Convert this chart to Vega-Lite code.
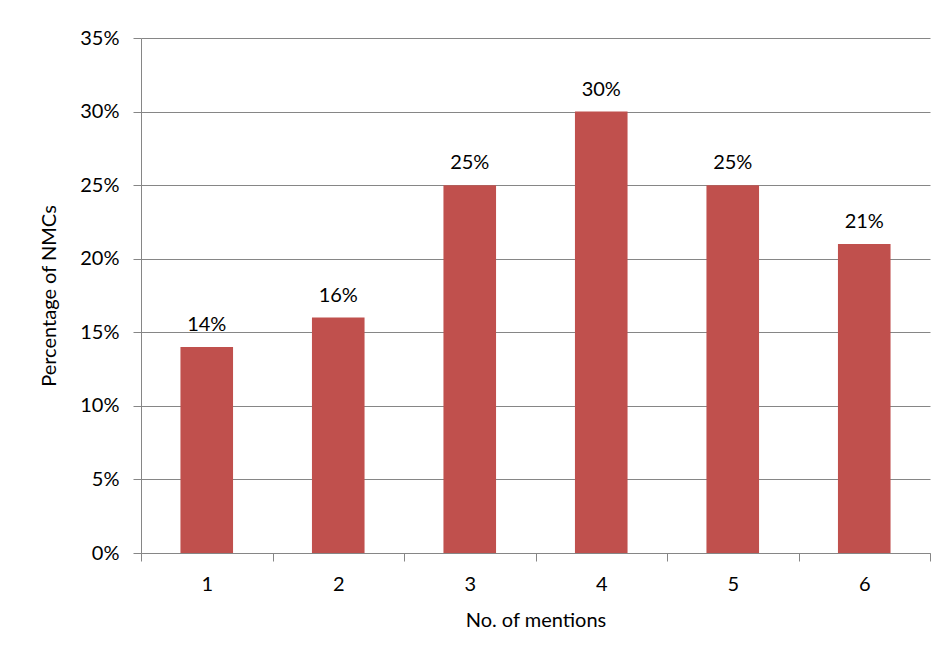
{
  "$schema": "https://vega.github.io/schema/vega-lite/v6.json",
  "width": 789,
  "height": 515,
  "autosize": {"type": "none"},
  "padding": {"left": 141, "top": 38, "right": 19, "bottom": 109},
  "background": "white",
  "config": {
    "view": {"stroke": null},
    "font": "Lato",
    "axis": {
      "labelFont": "Lato",
      "titleFont": "Lato",
      "labelFontSize": 20,
      "titleFontSize": 20,
      "titleFontWeight": "normal",
      "labelColor": "#000000",
      "titleColor": "#000000",
      "domainColor": "#868686",
      "tickColor": "#868686",
      "gridColor": "#868686",
      "tickSize": 8
    }
  },
  "data": {
    "values": [
      {"mentions": "1", "pct": 0.14},
      {"mentions": "2", "pct": 0.16},
      {"mentions": "3", "pct": 0.25},
      {"mentions": "4", "pct": 0.30},
      {"mentions": "5", "pct": 0.25},
      {"mentions": "6", "pct": 0.21}
    ]
  },
  "encoding": {
    "x": {
      "field": "mentions",
      "type": "ordinal",
      "scale": {"paddingInner": 0, "paddingOuter": 0},
      "axis": {
        "title": "No. of mentions",
        "labelAngle": 0,
        "tickBand": "extent",
        "grid": false,
        "labelPadding": 13,
        "titlePadding": 16
      }
    },
    "y": {
      "field": "pct",
      "type": "quantitative",
      "scale": {"domain": [0, 0.35], "nice": false},
      "axis": {
        "title": "Percentage of NMCs",
        "format": ".0%",
        "values": [0, 0.05, 0.1, 0.15, 0.2, 0.25, 0.3, 0.35],
        "grid": true,
        "labelPadding": 14,
        "titlePadding": 20
      }
    }
  },
  "layer": [
    {"mark": {"type": "bar", "color": "#C0504D", "width": {"band": 0.4}}},
    {
      "mark": {"type": "text", "baseline": "bottom", "dy": -12, "fontSize": 20, "font": "Lato", "color": "#000000"},
      "encoding": {"text": {"field": "pct", "type": "quantitative", "format": ".0%"}}
    }
  ]
}
